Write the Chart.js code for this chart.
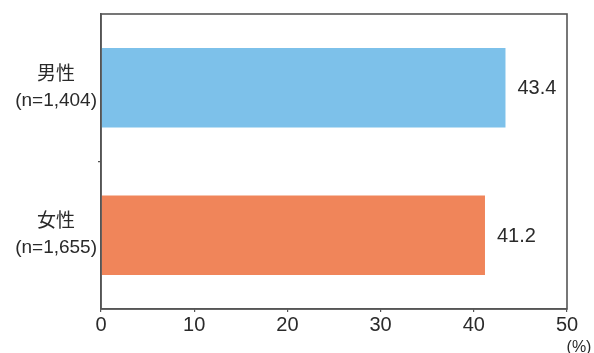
<!DOCTYPE html>
<html>
<head>
<meta charset="utf-8">
<script src="https://cdn.jsdelivr.net/npm/chart.js@4/dist/chart.umd.min.js"></script>
<style>
  html, body { margin: 0; padding: 0; background: #fff; }
  #wrap { width: 594px; height: 353px; }
</style>
</head>
<body>
<div id="wrap"><canvas id="c" width="594" height="353"></canvas></div>
<script>
// Categories (two-line labels) and their percentages
const categories = [['男性', '(n=1,404)'], ['女性', '(n=1,655)']];
const values = [43.4, 41.2];
const barColors = ['#7dc1ea', '#f0855a'];
const xTicks = [0, 10, 20, 30, 40, 50];
const unitLabel = '(%)';

const FONT = '"Liberation Sans", "Noto Sans CJK JP", sans-serif';
const TEXT = '#2a2a2a';
const FRAME = '#555555';

// Frame around the plot area, value labels next to bars and the unit label
const decorations = {
  id: 'decorations',
  afterDatasetsDraw(chart) {
    const { ctx, chartArea: a } = chart;
    ctx.save();
    ctx.strokeStyle = FRAME;
    ctx.lineWidth = 1.6;
    ctx.strokeRect(a.left, a.top, a.right - a.left, a.bottom - a.top);

    ctx.fillStyle = TEXT;
    ctx.font = '20px ' + FONT;
    ctx.textAlign = 'left';
    ctx.textBaseline = 'middle';
    const meta = chart.getDatasetMeta(0);
    meta.data.forEach((bar, i) => {
      ctx.fillText(values[i].toFixed(1), bar.x + 12, bar.y + 1);
    });

    ctx.font = '16px ' + FONT;
    ctx.textAlign = 'center';
    ctx.textBaseline = 'top';
    const xs = chart.scales.x;
    ctx.fillText(unitLabel, xs.getPixelForValue(xTicks[xTicks.length - 1]) + 12, 340);
    ctx.restore();
  }
};

new Chart(document.getElementById('c'), {
  type: 'bar',
  data: {
    labels: categories,
    datasets: [{
      data: values,
      backgroundColor: barColors,
      borderWidth: 0,
      categoryPercentage: 1,
      barPercentage: 0.54
    }]
  },
  options: {
    indexAxis: 'y',
    responsive: false,
    animation: false,
    layout: { padding: { top: 14, right: 27, bottom: 0, left: 0 } },
    plugins: { legend: { display: false }, tooltip: { enabled: false } },
    scales: {
      x: {
        min: 0,
        max: 50,
        afterBuildTicks(scale) { scale.ticks = xTicks.map(v => ({ value: v })); },
        afterFit(scale) {
          scale.height = 353 - 309;
          scale.paddingLeft = 0;
          scale.paddingRight = 0;
        },
        grid: { drawOnChartArea: false, tickLength: 3, color: FRAME, lineWidth: 1.2 },
        border: { display: true, color: FRAME, width: 1.6 },
        ticks: { font: { family: FONT, size: 20 }, color: TEXT, padding: 1, maxRotation: 0 }
      },
      y: {
        afterFit(scale) {
          scale.width = 101;
          scale.paddingTop = 0;
          scale.paddingBottom = 0;
        },
        grid: {
          drawOnChartArea: false,
          tickLength: 3,
          lineWidth: 1.2,
          color: ctx => (ctx.index === 1 ? FRAME : 'rgba(0,0,0,0)')
        },
        border: { display: true, color: FRAME, width: 1.6 },
        ticks: {
          font: { family: FONT, size: 19, lineHeight: 1.37 },
          color: TEXT,
          padding: 1,
          crossAlign: 'center'
        }
      }
    }
  },
  plugins: [decorations]
});
</script>
</body>
</html>
